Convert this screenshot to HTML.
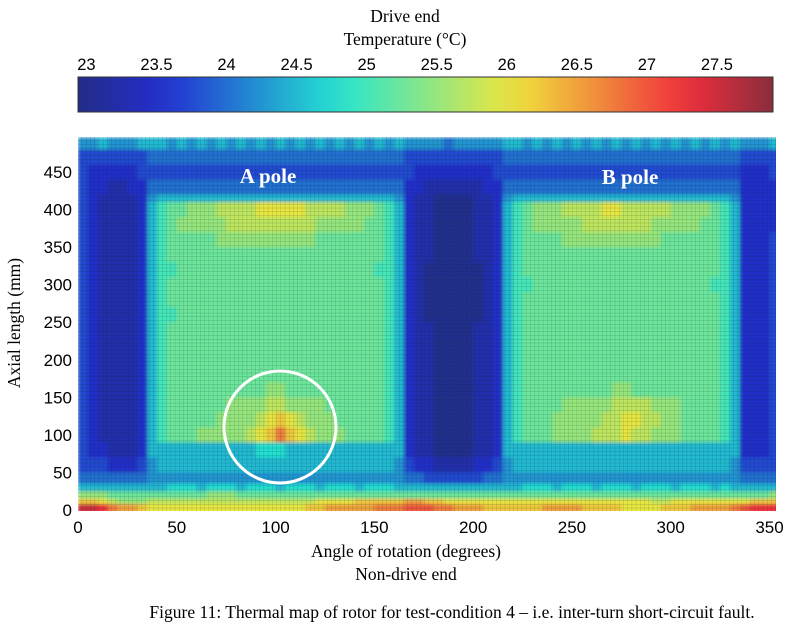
<!DOCTYPE html>
<html><head><meta charset="utf-8">
<style>
html,body{margin:0;padding:0;background:#fff;}
svg{display:block;}
.serif{font-family:"Liberation Serif",serif;}
.sans{font-family:"Liberation Sans",sans-serif;}
</style></head>
<body>
<svg id="chart" width="787" height="632" viewBox="0 0 787 632" xmlns="http://www.w3.org/2000/svg">
<defs>
  <linearGradient id="jet" x1="0" x2="1" y1="0" y2="0"></linearGradient>
  <clipPath id="plotclip"><rect x="78" y="137" width="698" height="374"/></clipPath>
  <filter id="soft" x="-5%" y="-5%" width="110%" height="110%"><feGaussianBlur stdDeviation="1.6" edgeMode="duplicate"/></filter>
  <pattern id="cellgrid" x="78" y="137" width="4.23" height="3.75" patternUnits="userSpaceOnUse">
    <path d="M4.23 0V3.75M0 3.75H4.23" stroke="rgba(0,40,30,0.28)" stroke-width="0.9" fill="none"/>
  </pattern>
</defs>
<g id="colorbar-title">
  <text class="serif" x="405" y="22" font-size="17.5" text-anchor="middle">Drive end</text>
  <text class="serif" x="405" y="45" font-size="17.5" text-anchor="middle">Temperature (°C)</text>
</g>
<g id="colorbar-ticks"></g>
<rect id="colorbar" x="78" y="77" width="695" height="35" fill="url(#jet)" stroke="#333" stroke-width="1"/>
<g clip-path="url(#plotclip)">
  <g id="heatmap" filter="url(#soft)"></g>
  <rect x="78" y="137" width="698" height="374" fill="url(#cellgrid)"/>
</g>
<text class="serif" x="268" y="183" font-size="21" font-weight="bold" fill="#fff" text-anchor="middle">A pole</text>
<text class="serif" x="630" y="184" font-size="21" font-weight="bold" fill="#fff" text-anchor="middle">B pole</text>
<circle id="fault-circle" cx="280" cy="427" r="56" fill="none" stroke="#fff" stroke-width="3"/>
<g id="x-ticks"></g>
<g id="y-ticks"></g>
<text class="serif" x="20" y="323" font-size="17.5" text-anchor="middle" transform="rotate(-90 20 323)">Axial length (mm)</text>
<text class="serif" x="406" y="557" font-size="17.5" text-anchor="middle">Angle of rotation (degrees)</text>
<text class="serif" x="406" y="580" font-size="17.5" text-anchor="middle">Non-drive end</text>
<text class="serif" x="452" y="618" font-size="17.5" text-anchor="middle">Figure 11: Thermal map of rotor for test-condition 4 – i.e. inter-turn short-circuit fault.</text>
</svg>
<script>
// ---- data ----
const xTicks = [0, 50, 100, 150, 200, 250, 300, 350];
const yTicks = [0, 50, 100, 150, 200, 250, 300, 350, 400, 450];
const cbTicks = [23, 23.5, 24, 24.5, 25, 25.5, 26, 26.5, 27, 27.5];
const colStepDeg = 5;            // each column = 5 degrees
const levelBase = 23.0;          // code '0'
const levelStep = 0.25;          // per code step (base-36 digits)
const rowLo = [480,460,440,420,410,390,370,350,330,310,290,270,250,230,210,190,170,150,130,110,90,70,50,35,25,15,8,-4];
const rowHi = [496,480,460,440,420,410,390,370,350,330,310,290,270,250,230,210,190,170,150,130,110,90,70,50,35,25,15,8];
const rowCodes = [
 "5565556"+"6"+"656565656565656565656565"+"6"+"5555455555"+"6"+"6565656565656565656565"+"6"+"5556",
 "3333333"+"4"+"444444444444444444444444"+"4"+"3333333333"+"4"+"4444444444444444444444"+"4"+"3333",
 "3222223"+"3"+"333333333333333333333333"+"3"+"3222222223"+"3"+"3333333333333333333333"+"3"+"2223",
 "3221122"+"4"+"444444444444444444444444"+"4"+"2211111122"+"4"+"4444444444444444444444"+"4"+"2222",
 "3211112"+"5"+"666666666666666666666666"+"5"+"2110000112"+"5"+"6666666666666666666666"+"5"+"2222",
 "3211112"+"6"+"899aaabbbbcccccbbbbaaa98"+"6"+"2110000112"+"6"+"89aaabbbbccbbbbbaaaa98"+"6"+"2222",
 "3211112"+"6"+"89aaaaabbbbbbbbbaaaaa998"+"6"+"2110000112"+"6"+"89aaaaabbbbbbbaaaaa998"+"6"+"2222",
 "3211112"+"6"+"899999aaaaaaaaaa99999998"+"6"+"2110000112"+"6"+"89999aaaaaaaaaa9999998"+"6"+"2223",
 "3211112"+"6"+"899999999999999999999998"+"6"+"2110000112"+"6"+"8999999999999999999998"+"6"+"2223",
 "3211112"+"6"+"889999999999999999999988"+"6"+"2100000012"+"6"+"8999999999999999999998"+"6"+"2223",
 "3211112"+"6"+"899999999999999999999998"+"6"+"2100000012"+"6"+"8899999999999999999988"+"6"+"2223",
 "3211112"+"6"+"899999999999999999999998"+"6"+"2100000012"+"6"+"8999999999999999999998"+"6"+"2223",
 "3211112"+"6"+"889999999999999999999998"+"6"+"2100000012"+"6"+"8999999999999999999998"+"6"+"2223",
 "3211112"+"6"+"899999999999999999999998"+"6"+"2110000112"+"6"+"8999999999999999999998"+"6"+"2223",
 "3211112"+"6"+"899999999999999999999998"+"6"+"2110000112"+"6"+"8999999999999999999998"+"6"+"2223",
 "3211112"+"6"+"899999999999999999999998"+"6"+"2110000112"+"6"+"8999999999999999999998"+"6"+"2223",
 "3211112"+"6"+"899999999999999999999998"+"6"+"2110000112"+"6"+"8999999999999999999998"+"6"+"2223",
 "3211112"+"6"+"89999999999aa99999999998"+"6"+"2110000112"+"6"+"8999999999aa9999999998"+"6"+"2223",
 "3211112"+"6"+"8999999aaaabbaaaa9999998"+"6"+"2110000112"+"6"+"89999aaaaabbbbaaa99998"+"6"+"2223",
 "3211112"+"6"+"899999aaaabcdcbaaa999998"+"6"+"2110000112"+"6"+"8999aaaaabbccbbaa99998"+"6"+"2223",
 "3211112"+"6"+"8999aaaaabcdfdcbaaa99998"+"6"+"2110000112"+"6"+"8999aaaabbbcbbaaa99998"+"6"+"2223",
 "3221112"+"6"+"666666666677766666666666"+"6"+"2110000112"+"6"+"6666666666666666666666"+"6"+"2223",
 "3332223"+"5"+"666666666666666666666666"+"5"+"3221111223"+"5"+"6666666666666666666666"+"5"+"3333",
 "4444444"+"5"+"555555555555555555555555"+"5"+"4433333344"+"5"+"5555555555555555555555"+"5"+"4444",
 "6666666"+"6"+"677767776777677767776777"+"6"+"6666666666"+"6"+"6777677767776777677767"+"6"+"6666",
 "aaa9999"+"9"+"99999aaa9999999999999999"+"9"+"9999999999"+"9"+"9999999999999999999999"+"9"+"999a",
 "ddcbaaa"+"b"+"bbbbbbbbbbbbbbbbccccdddd"+"d"+"eeddcccccc"+"c"+"ccccccccccccccbbcccccc"+"c"+"cddd",
 "iihfeed"+"c"+"cccccccccccccccddeeeeeff"+"f"+"gggffeeedd"+"d"+"dddeeeeddddccccdddeeee"+"f"+"ghhh"
];
const tMin = 22.94, tMax = 27.9;

// ---- scales ----
const NS = "http://www.w3.org/2000/svg";
const xS = d => 78 + d * (769.5 - 78) / 350;
const yS = m => 510 - m * (510 - 172) / 450;
const cS = t => 78 + (t - tMin) / (tMax - tMin) * 695;

function jet(f) {
  f = Math.max(0, Math.min(1, f));
  const c = v => Math.max(0, Math.min(1, v));
  const r = c(1.5 - Math.abs(4 * f - 3));
  const g = c(1.5 - Math.abs(4 * f - 2));
  const b = c(1.5 - Math.abs(4 * f - 1));
  return `rgb(${Math.round(35 + r * 205)},${Math.round(45 + g * 185)},${Math.round(60 + b * 150)})`;
}
const tColor = t => jet((t - tMin) / (tMax - tMin));

// colorbar gradient
const grad = document.getElementById('jet');
for (let i = 0; i <= 20; i++) {
  const s = document.createElementNS(NS, 'stop');
  s.setAttribute('offset', (i / 20));
  s.setAttribute('stop-color', jet(i / 20));
  grad.appendChild(s);
}

// heatmap cells
const hm = document.getElementById('heatmap');
rowCodes.forEach((row, ri) => {
  for (let ci = 0; ci < row.length; ci++) {
    const t = levelBase + parseInt(row[ci], 36) * levelStep;
    const r = document.createElementNS(NS, 'rect');
    const x0 = xS(ci * colStepDeg), x1 = xS((ci + 1) * colStepDeg);
    const y0 = yS(rowHi[ri]), y1 = yS(rowLo[ri]);
    r.setAttribute('x', x0);
    r.setAttribute('y', y0);
    r.setAttribute('width', x1 - x0 + 0.5);
    r.setAttribute('height', y1 - y0 + 0.5);
    r.setAttribute('fill', tColor(t));
    
    
    hm.appendChild(r);
  }
});

// axis ticks
const xg = document.getElementById('x-ticks');
xTicks.forEach(v => {
  const t = document.createElementNS(NS, 'text');
  t.setAttribute('x', xS(v));
  t.setAttribute('y', 533);
  t.setAttribute('font-size', '17');
  t.setAttribute('font-family', '"Liberation Sans", sans-serif');
  t.setAttribute('text-anchor', 'middle');
  
  
  t.textContent = v;
  xg.appendChild(t);
});
const yg = document.getElementById('y-ticks');
yTicks.forEach(v => {
  const t = document.createElementNS(NS, 'text');
  t.setAttribute('x', 72);
  t.setAttribute('y', yS(v) + 6);
  t.setAttribute('font-size', '17');
  t.setAttribute('font-family', '"Liberation Sans", sans-serif');
  t.setAttribute('text-anchor', 'end');
  
  
  t.textContent = v;
  yg.appendChild(t);
});
const cg = document.getElementById('colorbar-ticks');
cbTicks.forEach(v => {
  const t = document.createElementNS(NS, 'text');
  t.setAttribute('x', cS(v));
  t.setAttribute('y', 70);
  t.setAttribute('font-size', '16.5');
  t.setAttribute('font-family', '"Liberation Sans", sans-serif');
  t.setAttribute('text-anchor', 'middle');
  
  
  t.textContent = v;
  cg.appendChild(t);
});
</script>
</body></html>
